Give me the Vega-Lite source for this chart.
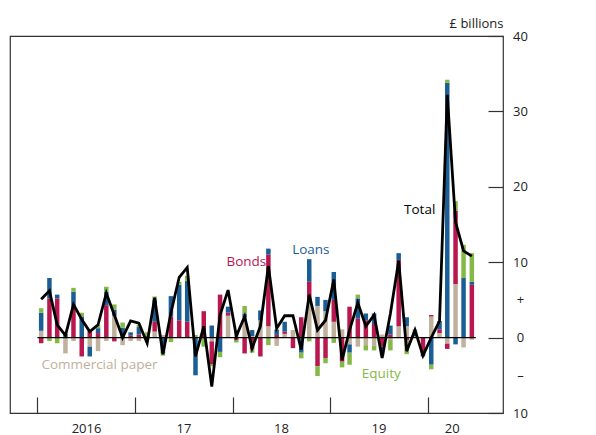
{
  "$schema": "https://vega.github.io/schema/vega-lite/v6.json",
  "width": 493,
  "height": 377,
  "autosize": {"type": "none"},
  "padding": {"left": 10, "top": 36, "right": 93, "bottom": 22},
  "config": {
    "view": {"stroke": "#333333", "strokeWidth": 1.2},
    "font": "Open Sans",
    "axis": {"labelFont": "Open Sans", "titleFont": "Open Sans"}
  },
  "datasets": {
    "flows": [
      {"month":"2016-01-15","Loans":2.4,"Bonds":-0.75,"Equity":0.6,"Commercial paper":0.9,"Total":5.1},
      {"month":"2016-02-15","Loans":2.7,"Bonds":5.2,"Equity":-0.45,"Commercial paper":0,"Total":6.2},
      {"month":"2016-03-15","Loans":0.5,"Bonds":5.2,"Equity":-0.75,"Commercial paper":0,"Total":1.7},
      {"month":"2016-04-15","Loans":0.5,"Bonds":0,"Equity":0,"Commercial paper":-2.1,"Total":0.3},
      {"month":"2016-05-15","Loans":2.0,"Bonds":4.1,"Equity":0.5,"Commercial paper":-0.45,"Total":4.4},
      {"month":"2016-06-15","Loans":2.8,"Bonds":-2.5,"Equity":0.5,"Commercial paper":0,"Total":2.4},
      {"month":"2016-07-15","Loans":-1.3,"Bonds":0.9,"Equity":0,"Commercial paper":-1.2,"Total":0.8},
      {"month":"2016-08-15","Loans":0.65,"Bonds":0.6,"Equity":0.45,"Commercial paper":-1.8,"Total":1.7},
      {"month":"2016-09-15","Loans":1.8,"Bonds":4.3,"Equity":0.65,"Commercial paper":-0.45,"Total":5.9},
      {"month":"2016-10-15","Loans":0.8,"Bonds":-0.5,"Equity":0.7,"Commercial paper":2.9,"Total":3.0},
      {"month":"2016-11-15","Loans":1.3,"Bonds":0,"Equity":0.7,"Commercial paper":-1.0,"Total":0.0},
      {"month":"2016-12-15","Loans":0.4,"Bonds":0.3,"Equity":0,"Commercial paper":-0.45,"Total":2.2},
      {"month":"2017-01-15","Loans":1.0,"Bonds":0.4,"Equity":0.3,"Commercial paper":-0.45,"Total":1.9},
      {"month":"2017-02-15","Loans":0.2,"Bonds":0,"Equity":0.5,"Commercial paper":-0.4,"Total":-0.75},
      {"month":"2017-03-15","Loans":2.9,"Bonds":1.3,"Equity":0.45,"Commercial paper":0.8,"Total":5.3},
      {"month":"2017-04-15","Loans":-2.1,"Bonds":0,"Equity":-0.3,"Commercial paper":0.35,"Total":-2.2},
      {"month":"2017-05-15","Loans":2.7,"Bonds":2.8,"Equity":-0.6,"Commercial paper":0,"Total":3.3},
      {"month":"2017-06-15","Loans":4.7,"Bonds":2.3,"Equity":0.4,"Commercial paper":0,"Total":8.0},
      {"month":"2017-07-15","Loans":5.4,"Bonds":2.1,"Equity":0.7,"Commercial paper":0,"Total":9.3},
      {"month":"2017-08-15","Loans":-5.0,"Bonds":0,"Equity":0.35,"Commercial paper":0,"Total":-2.5},
      {"month":"2017-09-15","Loans":0,"Bonds":3.5,"Equity":-1.2,"Commercial paper":0,"Total":1.5},
      {"month":"2017-10-15","Loans":1.6,"Bonds":-3.0,"Equity":-0.3,"Commercial paper":-0.5,"Total":-6.5},
      {"month":"2017-11-15","Loans":-1.9,"Bonds":5.7,"Equity":-0.7,"Commercial paper":0,"Total":3.0},
      {"month":"2017-12-15","Loans":0.8,"Bonds":0.4,"Equity":0,"Commercial paper":2.9,"Total":6.3},
      {"month":"2018-01-15","Loans":0,"Bonds":-0.3,"Equity":-0.35,"Commercial paper":0.9,"Total":0.2},
      {"month":"2018-02-15","Loans":0.5,"Bonds":-2.1,"Equity":1.0,"Commercial paper":2.7,"Total":2.8},
      {"month":"2018-03-15","Loans":0.8,"Bonds":-1.6,"Equity":-0.4,"Commercial paper":0.2,"Total":-1.4},
      {"month":"2018-04-15","Loans":1.3,"Bonds":-2.5,"Equity":0,"Commercial paper":2.3,"Total":1.5},
      {"month":"2018-05-15","Loans":0.8,"Bonds":9.5,"Equity":-1.0,"Commercial paper":1.5,"Total":9.5},
      {"month":"2018-06-15","Loans":0.7,"Bonds":0.35,"Equity":0,"Commercial paper":-1.1,"Total":1.2},
      {"month":"2018-07-15","Loans":1.3,"Bonds":0.3,"Equity":0,"Commercial paper":0.5,"Total":2.9},
      {"month":"2018-08-15","Loans":0,"Bonds":-1.4,"Equity":0,"Commercial paper":1.0,"Total":2.9},
      {"month":"2018-09-15","Loans":-2.0,"Bonds":2.7,"Equity":-0.75,"Commercial paper":0,"Total":-1.6},
      {"month":"2018-10-15","Loans":3.0,"Bonds":2.4,"Equity":-0.5,"Commercial paper":5.0,"Total":5.7},
      {"month":"2018-11-15","Loans":1.2,"Bonds":-3.8,"Equity":-1.3,"Commercial paper":4.2,"Total":1.0},
      {"month":"2018-12-15","Loans":1.5,"Bonds":-2.7,"Equity":-0.7,"Commercial paper":3.5,"Total":2.3},
      {"month":"2019-01-15","Loans":3.7,"Bonds":2.9,"Equity":-0.7,"Commercial paper":2.1,"Total":7.7},
      {"month":"2019-02-15","Loans":0,"Bonds":-3.2,"Equity":-0.75,"Commercial paper":1.1,"Total":-3.0},
      {"month":"2019-03-15","Loans":-1.1,"Bonds":4.1,"Equity":-1.6,"Commercial paper":-0.9,"Total":1.0},
      {"month":"2019-04-15","Loans":2.7,"Bonds":2.5,"Equity":0.5,"Commercial paper":-1.2,"Total":4.6},
      {"month":"2019-05-15","Loans":0.9,"Bonds":2.3,"Equity":-0.7,"Commercial paper":-1.0,"Total":1.5},
      {"month":"2019-06-15","Loans":1.4,"Bonds":1.8,"Equity":-0.6,"Commercial paper":-1.1,"Total":3.0},
      {"month":"2019-07-15","Loans":-0.4,"Bonds":-1.2,"Equity":-0.8,"Commercial paper":0.4,"Total":-2.7},
      {"month":"2019-08-15","Loans":1.2,"Bonds":0.4,"Equity":-1.4,"Commercial paper":-0.3,"Total":3.2},
      {"month":"2019-09-15","Loans":0.9,"Bonds":8.8,"Equity":0,"Commercial paper":1.5,"Total":10.2},
      {"month":"2019-10-15","Loans":1.2,"Bonds":-0.4,"Equity":-1.8,"Commercial paper":1.5,"Total":-1.8},
      {"month":"2019-11-15","Loans":0.6,"Bonds":0,"Equity":0.3,"Commercial paper":0.2,"Total":1.0},
      {"month":"2019-12-15","Loans":-0.5,"Bonds":-2.0,"Equity":0,"Commercial paper":0,"Total":-2.4},
      {"month":"2020-01-15","Loans":-3.6,"Bonds":0.2,"Equity":-0.6,"Commercial paper":2.8,"Total":0.0},
      {"month":"2020-02-15","Loans":1.1,"Bonds":0.5,"Equity":0,"Commercial paper":0.6,"Total":2.2},
      {"month":"2020-03-15","Loans":33.8,"Bonds":-0.7,"Equity":0.4,"Commercial paper":-0.8,"Total":32.2},
      {"month":"2020-04-15","Loans":-0.9,"Bonds":9.7,"Equity":1.3,"Commercial paper":7.1,"Total":15.3},
      {"month":"2020-05-15","Loans":7.9,"Bonds":0,"Equity":4.4,"Commercial paper":-1.3,"Total":11.5},
      {"month":"2020-06-15","Loans":0.4,"Bonds":7.0,"Equity":3.8,"Commercial paper":-0.3,"Total":10.8}
    ],
    "stacking": [
      {"series":"Commercial paper","rank":1},
      {"series":"Bonds","rank":2},
      {"series":"Loans","rank":3},
      {"series":"Equity","rank":4}
    ],
    "notes": [
      {"date":"2016-01-16","value":-3.6,"text":"Commercial paper","series":"Commercial paper"},
      {"date":"2017-12-09","value":10.0,"text":"Bonds","series":"Bonds"},
      {"date":"2018-08-12","value":11.6,"text":"Loans","series":"Loans"},
      {"date":"2019-04-30","value":-4.8,"text":"Equity","series":"Equity"},
      {"date":"2019-10-05","value":16.9,"text":"Total","series":"Total"}
    ],
    "zeroline": [
      {"start":"2016-01-01","end":"2020-06-30","value":0}
    ]
  },
  "layer": [
    {
      "data": {"name": "flows"},
      "transform": [
        {"fold": ["Commercial paper", "Bonds", "Loans", "Equity"], "as": ["series", "amount"]},
        {"lookup": "series", "from": {"data": {"name": "stacking"}, "key": "series", "fields": ["rank"]}}
      ],
      "mark": {"type": "bar", "size": 4.5},
      "encoding": {
        "x": {
          "field": "month",
          "type": "temporal",
          "scale": {
            "nice": false,
            "domain": [{"year": 2015, "month": 10, "date": 9}, {"year": 2020, "month": 9, "date": 21}]
          },
          "axis": {
            "title": null,
            "domain": false,
            "grid": false,
            "values": [
              {"year": 2016, "month": 1, "date": 1}, {"year": 2016, "month": 7, "date": 1},
              {"year": 2017, "month": 1, "date": 1}, {"year": 2017, "month": 7, "date": 1},
              {"year": 2018, "month": 1, "date": 1}, {"year": 2018, "month": 7, "date": 1},
              {"year": 2019, "month": 1, "date": 1}, {"year": 2019, "month": 7, "date": 1},
              {"year": 2020, "month": 1, "date": 1}, {"year": 2020, "month": 4, "date": 1}
            ],
            "labelExpr": "month(datum.value) === 0 ? '' : (year(datum.value) === 2016 ? '2016' : slice(toString(year(datum.value)), 2))",
            "tickOpacity": {"condition": {"test": "month(datum.value) === 0", "value": 1}, "value": 0},
            "tickSize": -16,
            "tickWidth": 1.2,
            "tickColor": "#333333",
            "labelPadding": 31,
            "labelBaseline": "middle",
            "labelFontSize": 13,
            "labelColor": "#222222",
            "labelFlush": false,
            "labelOverlap": false
          }
        },
        "y": {
          "field": "amount",
          "type": "quantitative",
          "stack": "zero",
          "scale": {"domain": [-10, 40], "nice": false},
          "axis": {
            "orient": "right",
            "domain": false,
            "grid": false,
            "values": [-10, -5, 0, 5, 10, 20, 30, 40],
            "labelExpr": "datum.value === -10 ? '10' : (datum.value === -5 ? '–' : (datum.value === 5 ? '+' : datum.label))",
            "tickOpacity": {"condition": {"test": "datum.value === 5 || datum.value === -5", "value": 0}, "value": 1},
            "tickSize": -15,
            "tickWidth": 1.2,
            "tickColor": "#333333",
            "labelAlign": "center",
            "labelBaseline": "middle",
            "labelPadding": 32,
            "labelFontSize": 13,
            "labelColor": "#222222",
            "labelFlush": false,
            "labelOverlap": false,
            "title": "£ billions",
            "titleAngle": 0,
            "titleAlign": "right",
            "titleBaseline": "alphabetic",
            "titleX": 0,
            "titleY": -9,
            "titleFontSize": 13,
            "titleFontWeight": "normal",
            "titleColor": "#222222"
          }
        },
        "order": {"field": "rank", "type": "quantitative", "sort": "ascending"},
        "color": {
          "field": "series",
          "type": "nominal",
          "scale": {
            "domain": ["Commercial paper", "Bonds", "Loans", "Equity", "Total"],
            "range": ["#bfb19c", "#b8174f", "#1b5e96", "#84b947", "#000000"]
          },
          "legend": null
        }
      }
    },
    {
      "data": {"name": "zeroline"},
      "mark": {"type": "rule", "color": "#000000", "strokeWidth": 1.2},
      "encoding": {
        "x": {"field": "start", "type": "temporal"},
        "x2": {"field": "end"},
        "y": {"field": "value", "type": "quantitative"}
      }
    },
    {
      "data": {"name": "flows"},
      "mark": {"type": "line", "color": "#000000", "strokeWidth": 2.8, "strokeJoin": "miter"},
      "encoding": {
        "x": {"field": "month", "type": "temporal"},
        "y": {"field": "Total", "type": "quantitative"}
      }
    },
    {
      "data": {"name": "notes"},
      "mark": {"type": "text", "align": "left", "baseline": "middle", "fontSize": 13.5, "font": "Open Sans"},
      "encoding": {
        "x": {"field": "date", "type": "temporal"},
        "y": {"field": "value", "type": "quantitative"},
        "text": {"field": "text"},
        "color": {
          "field": "series",
          "type": "nominal",
          "scale": {
            "domain": ["Commercial paper", "Bonds", "Loans", "Equity", "Total"],
            "range": ["#bfb19c", "#b8174f", "#1b5e96", "#84b947", "#000000"]
          },
          "legend": null
        }
      }
    }
  ]
}
